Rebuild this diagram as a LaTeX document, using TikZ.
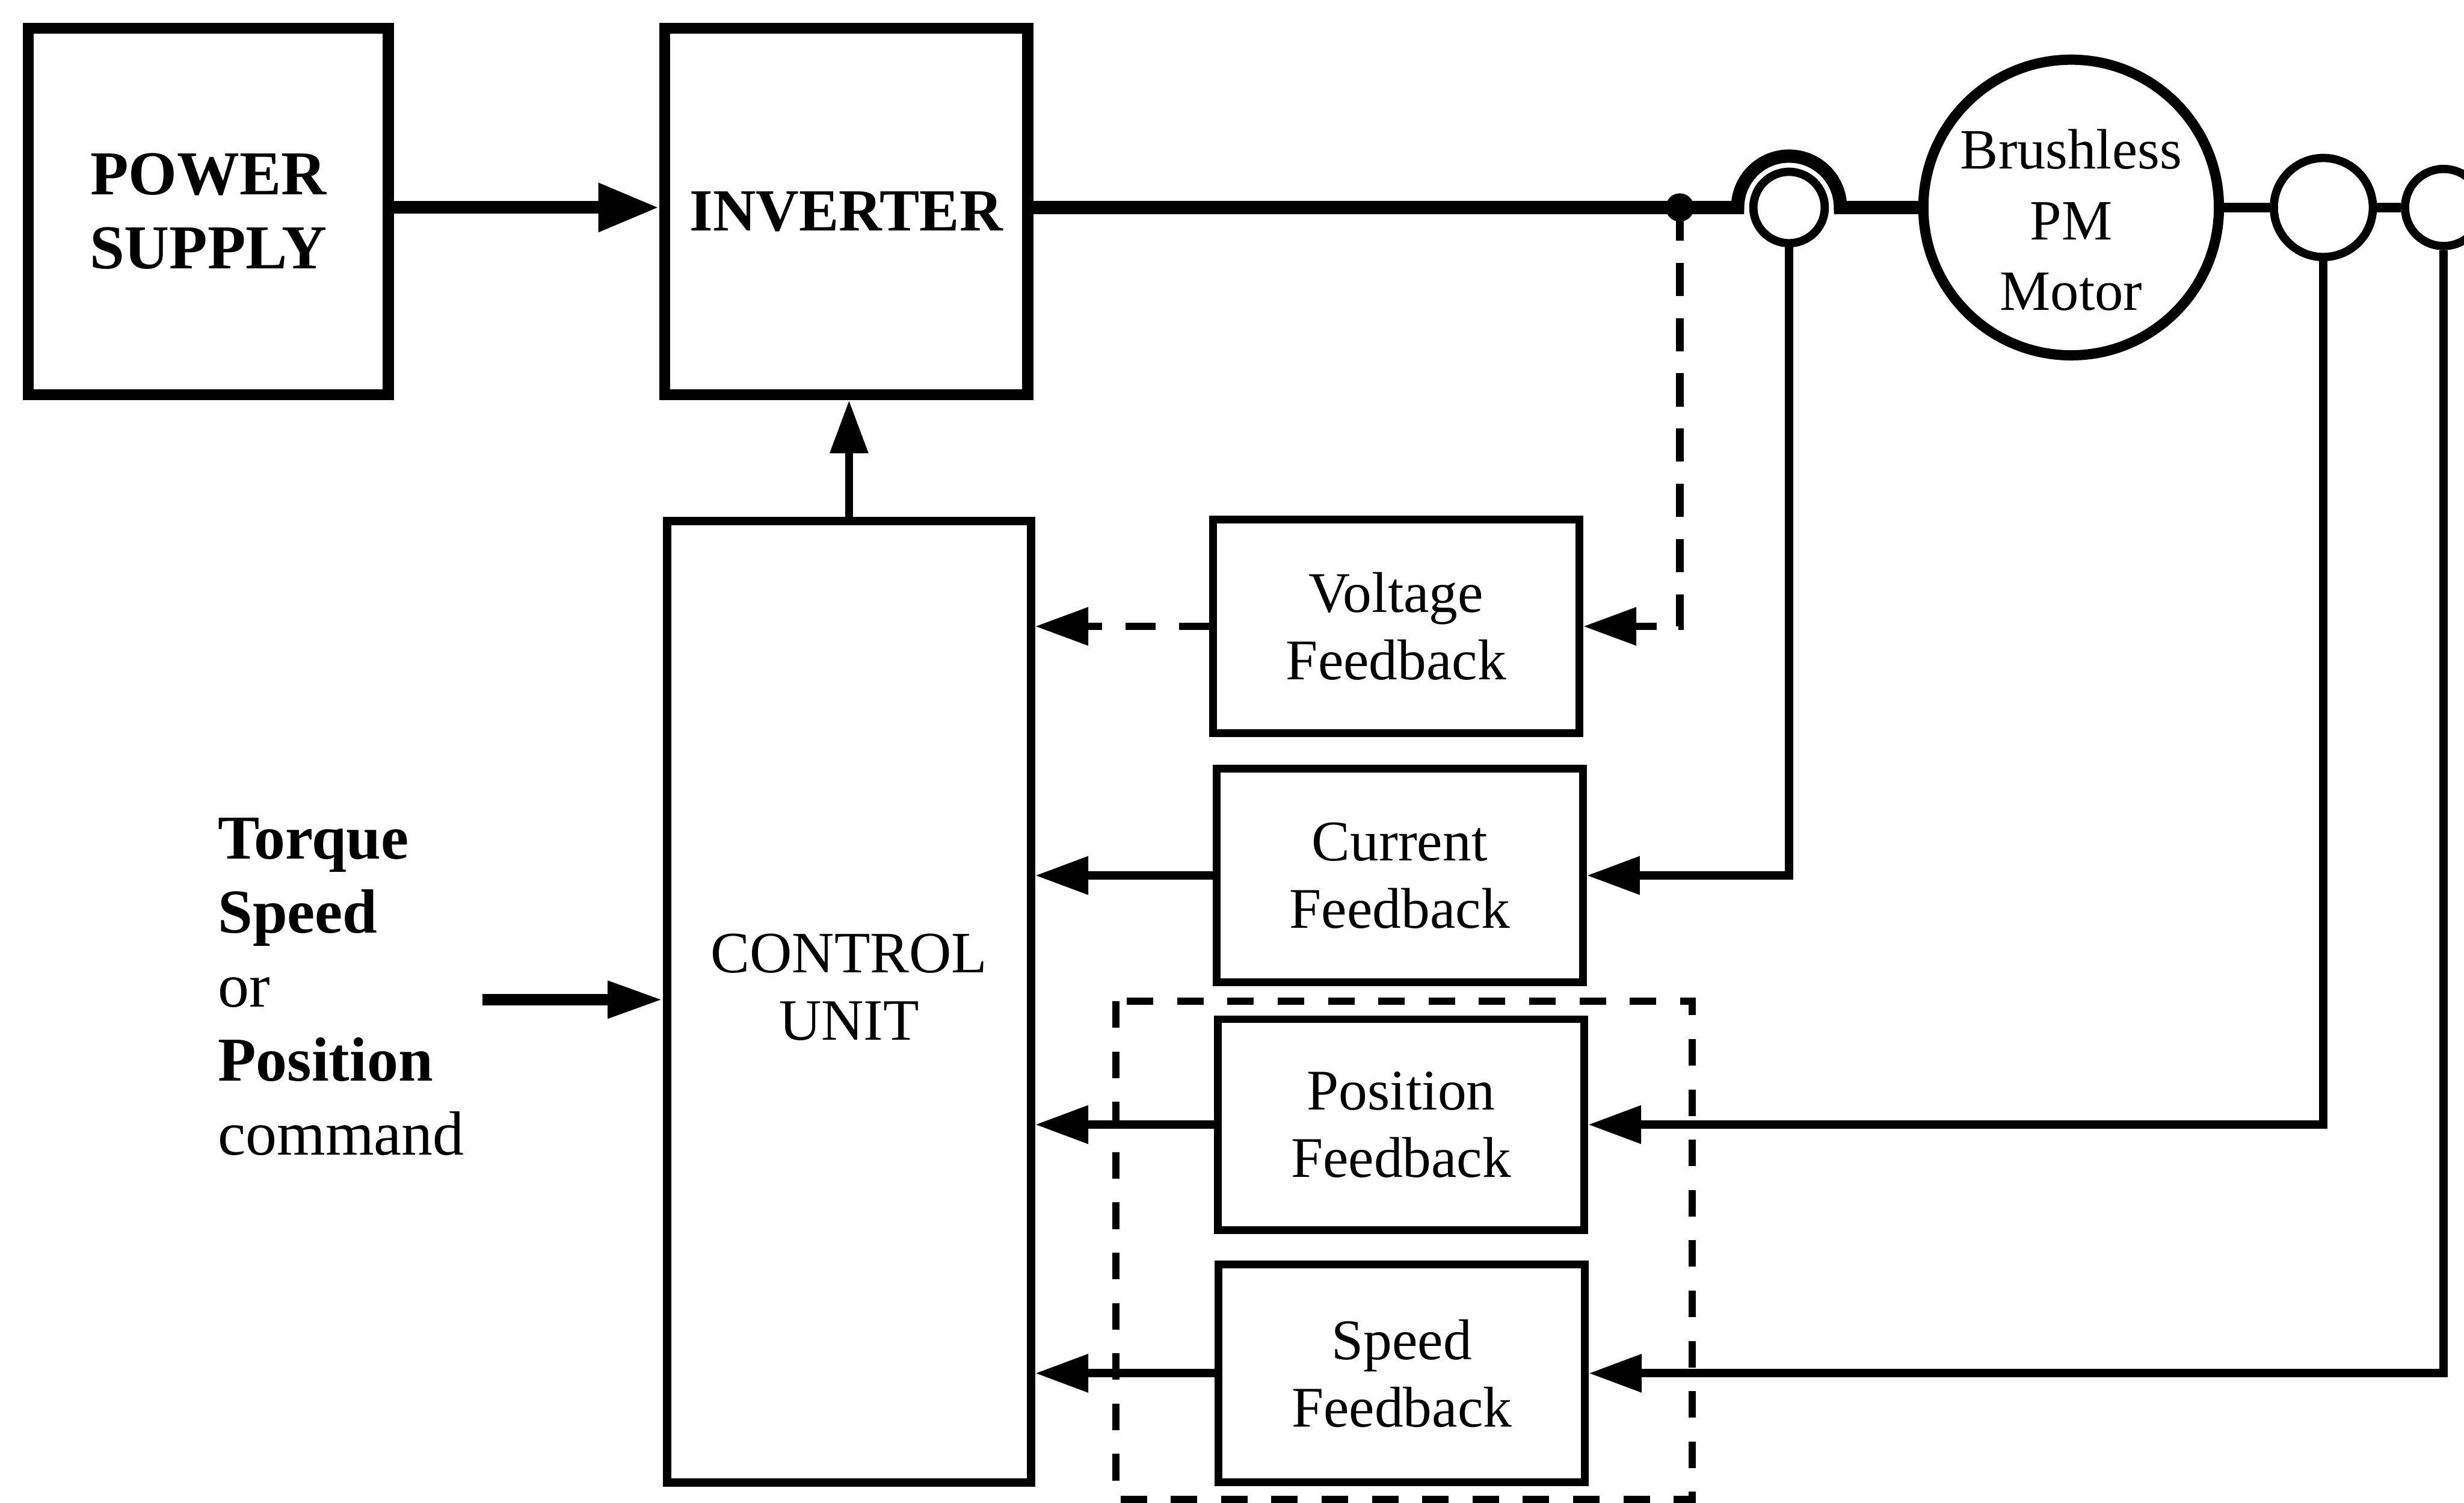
\documentclass[tikz,border=0pt]{standalone}
\usepackage{fontspec}
\setmainfont{Liberation Serif}
\usetikzlibrary{arrows.meta}

\begin{document}
\begin{tikzpicture}[x=0.01cm, y=-0.01cm,
    bigbox/.style={draw, line width=2pt, minimum width=2.29cm, minimum height=2.33cm,
      inner sep=0pt, align=center, font=\fontsize{11.3pt}{13.4pt}\selectfont\bfseries},
    fbbox/.style={draw, line width=1.4pt, minimum width=2.33cm, minimum height=1.36cm,
      inner sep=0pt, align=center, font=\fontsize{10.4pt}{12.2pt}\selectfont},
    sensor/.style={draw, circle, line width=1.5pt, inner sep=0pt},
    wire/.style={line width=1.5pt},
    fbarrow/.style={wire, -{Triangle[length=9.6pt, width=6.6pt]}},
    dashwire/.style={line width=1.4pt, dash pattern=on 6pt off 4pt},
    cmdtext/.style={inner sep=0pt, anchor=base west, font=\fontsize{11.3pt}{13.4pt}\selectfont}]

  \useasboundingbox (0,0) rectangle (1568,956);
  \clip (0,0) rectangle (1568,956);

  % power stage
  \node[bigbox] (psu) at (132.5,134.5) {POWER\\SUPPLY};
  \node[bigbox, minimum width=2.31cm, font=\fontsize{10.8pt}{13pt}\selectfont\bfseries] (inv) at (538.5,134.5) {INVERTER};
  \node[draw, line width=1.5pt, minimum width=2.315cm, minimum height=6.115cm] (ctrl) at (540.3,637.3) {};
  \node[align=center, font=\fontsize{10.6pt}{12.2pt}\selectfont] (ctrltext) at (540.3,628) {CONTROL\\UNIT};

  % feedback blocks
  \node[fbbox] (volt) at (888.5,398.5) {Voltage\\Feedback};
  \node[fbbox] (curr) at (890.7,557) {Current\\Feedback};
  \node[fbbox, minimum height=1.34cm] (posn) at (891.6,715.5) {Position\\Feedback};
  \node[fbbox, minimum height=1.385cm] (speed) at (892,873.7) {Speed\\Feedback};

  % motor and sensors
  \node[sensor, line width=1.85pt, minimum size=1.88cm] (motor) at (1318,132) {};
  \node[align=center, font=\fontsize{10.3pt}{12.8pt}\selectfont] (motortext) at (1318,140) {Brushless\\PM\\Motor};
  \node[sensor, minimum size=0.454cm] (isens) at (1138.5,132) {};
  \node[sensor, minimum size=0.63cm] (enc1) at (1478.5,132) {};
  \node[sensor, minimum size=0.49cm] (enc2) at (1555,132) {};
  \coordinate (jn) at (1069,132);
  \coordinate (cmd) at (307,636);

  % power path
  \draw[line width=2.3pt, -{Triangle[length=11pt, width=8.3pt]}] (psu.east |- jn) -- (inv.west |- jn);
  \draw[line width=2.4pt] (inv.east |- jn) -- (jn) -- ([xshift=-0.327cm]isens.center)
    arc[start angle=180, end angle=360, radius=32.7] -- (motor.west);
  \fill (jn) circle (9);
  \draw[line width=1.7pt] (motor.east) -- (enc1.west) (enc1.east) -- (enc2.west);
  \draw[fbarrow] (ctrl.north) -- (ctrl.north |- inv.south);
  \draw[line width=2pt, -{Triangle[length=10pt, width=6.3pt]}] (cmd) -- (cmd -| ctrl.west);

  % sensor wires
  \draw[dashwire, -{Triangle[length=9.6pt, width=6.6pt]}] (jn) |- (volt.east);
  \draw[fbarrow] (isens.south) |- (curr.east);
  \draw[fbarrow] (enc1.south) |- (posn.east);
  \draw[fbarrow] (enc2.south) |- (speed.east);

  % feedback into control unit
  \draw[dashwire, dash pattern=on 5.4pt off 4.3pt, -{Triangle[length=9.6pt, width=6.6pt]}]
    (volt.west) -- (volt.west -| ctrl.east);
  \foreach \fb in {curr,posn,speed}
    \draw[fbarrow] (\fb.west) -- (\fb.west -| ctrl.east);

  % dashed frame round position/speed
  \draw[line width=1.3pt, dash pattern=on 4.8pt off 4.3pt] (710,637) rectangle (1077,954);

  % command input
  \node[cmdtext] (torque) at (138,546.6) {\textbf{Torque}};
  \node[cmdtext] (speedcmd) at (138,593.5) {\textbf{Speed}};
  \node[cmdtext] (orcmd) at (138,640.6) {or};
  \node[cmdtext] (poscmd) at (138,687.6) {\textbf{Position}};
  \node[cmdtext] (command) at (138,734.8) {command};
\end{tikzpicture}
\end{document}
